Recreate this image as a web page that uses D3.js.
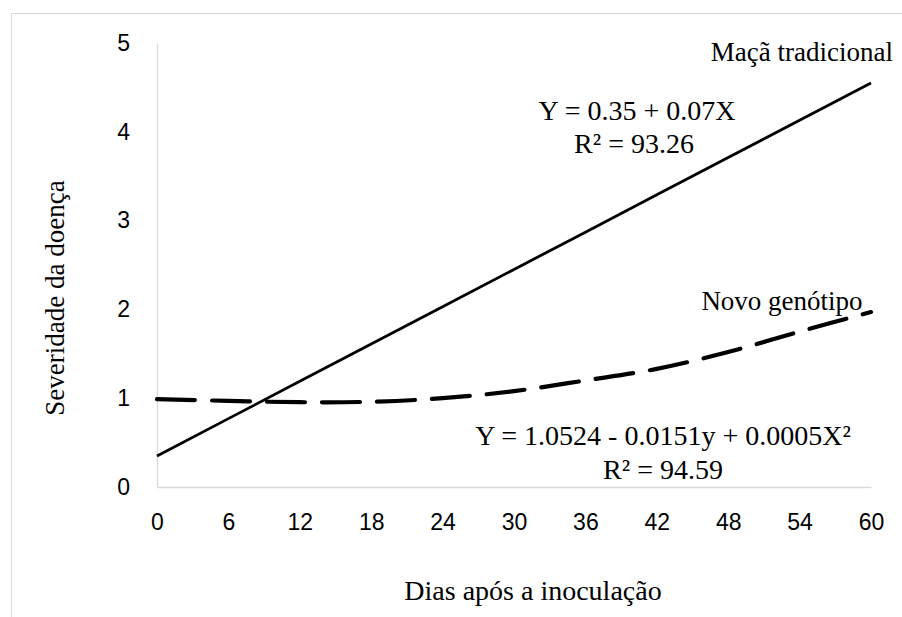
<!DOCTYPE html>
<html><head><meta charset="utf-8">
<script src="https://cdn.jsdelivr.net/npm/d3@7"></script>
<style>body{margin:0;background:#fff}svg{display:block}</style>
</head><body>
<script>
const xTicks = [0, 6, 12, 18, 24, 30, 36, 42, 48, 54, 60];
const yTicks = [0, 1, 2, 3, 4, 5];
const days = [0, 6, 12, 18, 24, 30, 36, 42, 48, 54, 60];
const macaTradicional = [0.35, 0.77, 1.19, 1.61, 2.03, 2.45, 2.87, 3.29, 3.71, 4.13, 4.55];
const novoGenotipo = [0.99, 0.97, 0.955, 0.96, 1.0, 1.08, 1.2, 1.33, 1.52, 1.75, 1.97];

const W = 902, H = 617;
const svg = d3.select("body").append("svg").attr("width", W).attr("height", H);
svg.append("rect").attr("width", W).attr("height", H).attr("fill", "#fff");
svg.append("line").attr("x1", 11.5).attr("x2", W).attr("y1", 13.5).attr("y2", 13.5).attr("stroke", "#d9d9d9");
svg.append("line").attr("x1", 11.5).attr("x2", 11.5).attr("y1", 13.5).attr("y2", H).attr("stroke", "#d9d9d9");

const x = d3.scaleLinear().domain([0, 60]).range([157, 871]);
const y = d3.scaleLinear().domain([0, 5]).range([487, 43]);

const sans = "'Liberation Sans', Arial, sans-serif";
const xAxis = svg.append("g").attr("transform", "translate(0,487)")
  .call(d3.axisBottom(x).tickValues(xTicks).tickSize(0).tickPadding(27).tickFormat(d3.format("d")));
xAxis.select(".domain").attr("stroke", "#d9d9d9").attr("stroke-width", 1.3);
xAxis.selectAll("text").attr("font-family", sans).attr("font-size", 23).attr("fill", "#000");

const yAxis = svg.append("g").attr("transform", "translate(157,0)")
  .call(d3.axisLeft(y).tickValues(yTicks).tickSize(0).tickPadding(27).tickFormat(d3.format("d")));
yAxis.select(".domain").attr("stroke", "#d9d9d9").attr("stroke-width", 1.3);
yAxis.selectAll("text").attr("font-family", sans).attr("font-size", 23).attr("fill", "#000");

const solid = d3.line().x((d, i) => x(days[i])).y(d => y(d));
svg.append("path").datum(macaTradicional).attr("d", solid)
  .attr("fill", "none").attr("stroke", "#000").attr("stroke-width", 2.8);

const curved = d3.line().x((d, i) => x(days[i])).y(d => y(d)).curve(d3.curveCatmullRom);
svg.append("path").datum(novoGenotipo).attr("d", curved)
  .attr("fill", "none").attr("stroke", "#000").attr("stroke-width", 4.2)
  .attr("stroke-dasharray", "38,17").attr("stroke-linecap", "round");

const serif = "'Liberation Serif', 'Times New Roman', serif";
function txt(t, px, py, anchor, size, rot) {
  const e = svg.append("text").text(t).attr("x", px).attr("y", py)
    .attr("text-anchor", anchor).attr("font-family", serif).attr("font-size", size).attr("fill", "#000");
  if (rot) e.attr("transform", `rotate(${rot},${px},${py})`);
  return e;
}
txt("Maçã tradicional", 893, 61, "end", 27);
txt("Y = 0.35 + 0.07X", 637, 120, "middle", 28);
txt("R² = 93.26", 634, 153, "middle", 28);
txt("Novo genótipo", 782, 310, "middle", 27);
txt("Y = 1.0524 - 0.0151y + 0.0005X²", 663, 445, "middle", 28);
txt("R² = 94.59", 663, 479, "middle", 28);
txt("Dias após a inoculação", 533, 600, "middle", 28);
txt("Severidade da doença", 64, 298, "middle", 27, -90);
</script>
</body></html>
